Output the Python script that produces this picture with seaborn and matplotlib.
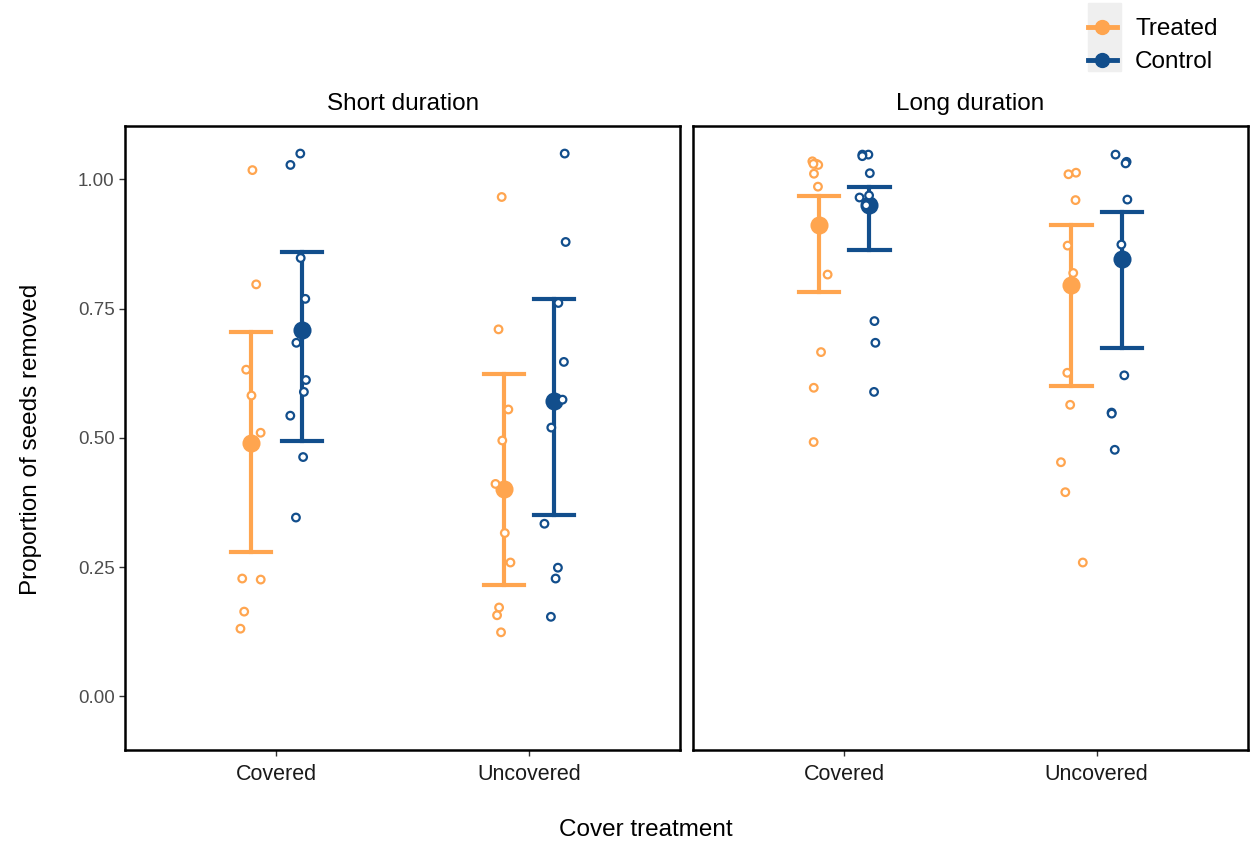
import numpy as np
import pandas as pd
import matplotlib
matplotlib.use("Agg")
import matplotlib.pyplot as plt
from matplotlib.lines import Line2D
from matplotlib.patches import Rectangle
import seaborn as sns

# raw proportions
short_cov_trt = [1.018, 0.797, 0.632, 0.582, 0.510, 0.226, 0.228, 0.164, 0.131]
short_cov_ctl = [1.050, 1.028, 0.848, 0.769, 0.684, 0.612, 0.589, 0.543, 0.463, 0.346]
short_unc_trt = [0.966, 0.710, 0.555, 0.495, 0.411, 0.316, 0.259, 0.172, 0.157, 0.124]
short_unc_ctl = [1.050, 0.879, 0.761, 0.647, 0.574, 0.520, 0.334, 0.249, 0.228, 0.154]
long_cov_trt = [1.035, 1.030, 1.028, 1.030, 1.011, 0.986, 0.816, 0.666, 0.597, 0.492]
long_cov_ctl = [1.048, 1.048, 1.045, 1.012, 0.965, 0.969, 0.950, 0.726, 0.684, 0.589]
long_unc_trt = [1.013, 1.010, 0.960, 0.872, 0.819, 0.626, 0.564, 0.453, 0.395, 0.259]
long_unc_ctl = [1.048, 1.034, 1.031, 0.961, 0.874, 0.621, 0.549, 0.547, 0.477]

# group means and error bar limits (order: cov-trt, cov-ctl, unc-trt, unc-ctl)
short_mean = [0.491, 0.708, 0.402, 0.571]
short_lo = [0.280, 0.494, 0.215, 0.351]
short_hi = [0.705, 0.859, 0.624, 0.768]
long_mean = [0.911, 0.950, 0.795, 0.847]
long_lo = [0.782, 0.863, 0.600, 0.673]
long_hi = [0.968, 0.985, 0.911, 0.937]

covers = ["Covered", "Uncovered"]
groups = ["Treated", "Control"]
panels = ["Short duration", "Long duration"]
colors = {"Treated": "#FFA54F", "Control": "#124E8C"}

raw = {
    "Short duration": [short_cov_trt, short_cov_ctl, short_unc_trt, short_unc_ctl],
    "Long duration": [long_cov_trt, long_cov_ctl, long_unc_trt, long_unc_ctl],
}
summ = {
    "Short duration": (short_mean, short_lo, short_hi),
    "Long duration": (long_mean, long_lo, long_hi),
}
combos = [(c, g) for c in covers for g in groups]

rows = []
for p in panels:
    for (c, g), vals in zip(combos, raw[p]):
        for v in vals:
            rows.append({"panel": p, "cover": c, "group": g, "prop": v})
df = pd.DataFrame(rows)

srows = []
for p in panels:
    m, lo, hi = summ[p]
    for i, (c, g) in enumerate(combos):
        for v in (lo[i], m[i], hi[i]):
            srows.append({"panel": p, "cover": c, "group": g, "prop": v})
sdf = pd.DataFrame(srows)

plt.rcParams["font.family"] = ["Liberation Sans", "DejaVu Sans"]

np.random.seed(3)
fig, axes = plt.subplots(1, 2, figsize=(12.52, 8.49), dpi=100, sharey=True)
fig.subplots_adjust(left=0.0998, right=0.997, top=0.852, bottom=0.117, wspace=0.022)

for ax, p in zip(axes, panels):
    sns.stripplot(data=df[df.panel == p], x="cover", y="prop", hue="group",
                  order=covers, hue_order=groups, palette=colors, dodge=True,
                  jitter=0.19, size=5.5, legend=False, ax=ax)
    # pull the dodged points closer together and make them hollow
    for coll in ax.collections:
        off = coll.get_offsets()
        base = np.round(off[:, 0])
        off[:, 0] = base + (off[:, 0] - base) * 0.5
        coll.set_offsets(off)
        fc = coll.get_facecolor()
        coll.set_edgecolor(fc)
        coll.set_facecolor("white")
        coll.set_linewidth(1.6)

    sns.pointplot(data=sdf[sdf.panel == p], x="cover", y="prop", hue="group",
                  order=covers, hue_order=groups, palette=colors,
                  estimator="median", errorbar=lambda v: (v.min(), v.max()),
                  dodge=0.2, linestyle="none", markersize=11, capsize=0.16,
                  err_kws={"linewidth": 3}, legend=False, ax=ax)

    ax.set_xlim(-0.6, 1.6)
    ax.set_ylim(-0.103, 1.104)
    ax.set_yticks([0, 0.25, 0.5, 0.75, 1.0])
    ax.set_yticklabels(["0.00", "0.25", "0.50", "0.75", "1.00"])
    ax.set_xlabel("")
    ax.set_ylabel("")
    ax.set_title(p, fontsize=17.5, pad=11, color="black")
    ax.tick_params(color="#333333", length=4, width=1)
    ax.tick_params(axis="y", labelsize=13.5, labelcolor="#4D4D4D")
    ax.tick_params(axis="x", labelsize=15.5, labelcolor="#1A1A1A", pad=6)
    for s in ax.spines.values():
        s.set_visible(True)
        s.set_linewidth(1.8)
        s.set_color("black")

axes[1].tick_params(axis="y", left=False)

fig.text(0.025, 0.483, "Proportion of seeds removed", rotation=90,
         ha="center", va="center", fontsize=17.5)
fig.text(0.516, 0.022, "Cover treatment", ha="center", va="center", fontsize=17.5)

# legend
fig.patches.append(Rectangle((1088 / 1252, 1 - 71 / 849), 33 / 1252, 68 / 849,
                             transform=fig.transFigure, color="#EFEFEF", zorder=0))
handles = [Line2D([], [], color=colors[g], marker="o", markersize=10, linewidth=3.5)
           for g in groups]
fig.legend(handles, groups, loc="upper right", bbox_to_anchor=(0.99, 1.004),
           frameon=False, fontsize=17.5, handlelength=1.2, handletextpad=0.75,
           labelspacing=0.45)

fig.savefig("out.png", dpi=100)
